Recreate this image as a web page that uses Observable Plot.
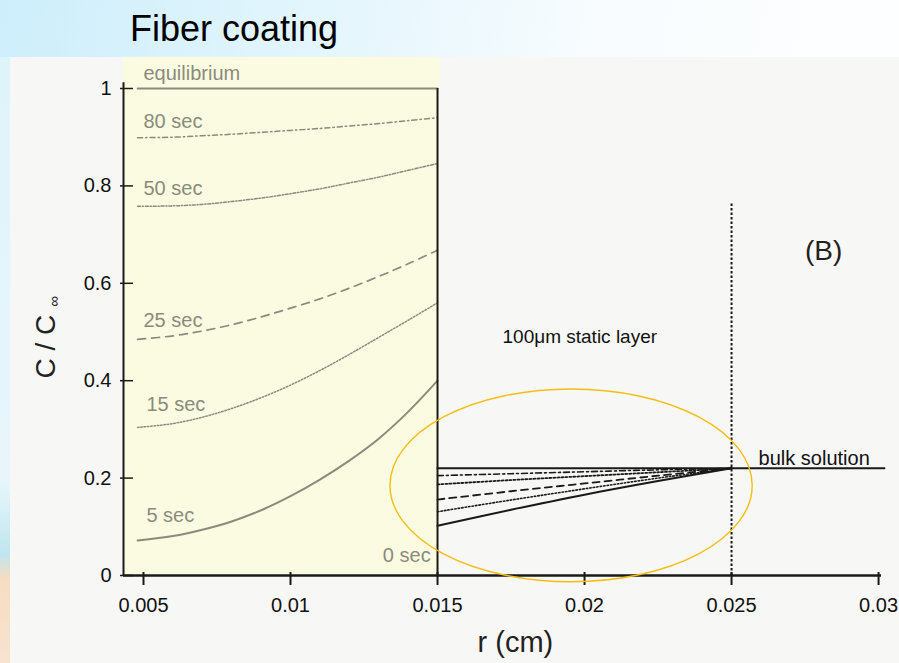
<!DOCTYPE html>
<html>
<head>
<meta charset="utf-8">
<script src="https://cdn.jsdelivr.net/npm/d3@7"></script>
<script src="https://cdn.jsdelivr.net/npm/@observablehq/plot@0.6"></script>
<style>
  html, body { margin: 0; padding: 0; }
  body { width: 899px; height: 663px; position: relative; overflow: hidden;
    background: linear-gradient(100deg, #cdeefb 0%, #e2f5fd 30%, #f8fcfe 60%, #ffffff 100%);
    font-family: "Liberation Sans", Arial, sans-serif; }
  #strip { position: absolute; left: 0; top: 57px; width: 10px; height: 606px;
    background: linear-gradient(180deg, #dff3fb 0%, #e8f6fb 70%, #bfe6ef 82%, #f6dcc2 86%, #f9e3cf 100%); }
  #title { position: absolute; left: 130px; top: 11px; font-size: 36px; line-height: 1; color: #000; white-space: nowrap; }
  #paper { position: absolute; left: 10px; top: 57px; width: 889px; height: 606px; background: #f7f7f5; }
</style>
</head>
<body>
<div id="strip"></div>
<div id="title">Fiber coating</div>
<div id="paper"></div>
<script>
// ---------- data ----------
const fiberR = [0.0048, 0.006, 0.007, 0.008, 0.009, 0.010, 0.011, 0.012, 0.013, 0.014, 0.015];
const fiberEq   = [1, 1, 1, 1, 1, 1, 1, 1, 1, 1, 1];
const fiber80s  = [0.899, 0.900, 0.903, 0.906, 0.910, 0.914, 0.918, 0.923, 0.928, 0.934, 0.940];
const fiber50s  = [0.758, 0.759, 0.762, 0.768, 0.775, 0.784, 0.794, 0.806, 0.818, 0.832, 0.846];
const fiber25s  = [0.485, 0.492, 0.502, 0.515, 0.531, 0.549, 0.568, 0.590, 0.614, 0.640, 0.668];
const fiber15s  = [0.304, 0.312, 0.325, 0.343, 0.365, 0.391, 0.421, 0.454, 0.489, 0.524, 0.560];
const fiber5s   = [0.072, 0.081, 0.094, 0.111, 0.134, 0.163, 0.197, 0.236, 0.281, 0.336, 0.400];

const layerR = [0.015, 0.0175, 0.02, 0.0225, 0.025];
const layerEq  = [0.220, 0.220, 0.220, 0.220, 0.220];
const layer80s = [0.205, 0.209, 0.213, 0.217, 0.220];
const layer50s = [0.187, 0.196, 0.204, 0.212, 0.220];
const layer25s = [0.156, 0.173, 0.189, 0.205, 0.220];
const layer15s = [0.131, 0.155, 0.178, 0.200, 0.220];
const layer5s  = [0.102, 0.135, 0.166, 0.194, 0.220];

const bulkR = [0.025, 0.0302];
const bulkC = [0.220, 0.220];

const xTicks = [0.005, 0.01, 0.015, 0.02, 0.025, 0.03];
const yTicks = [0, 0.2, 0.4, 0.6, 0.8, 1];

const timeLabels = ["equilibrium", "80 sec", "50 sec", "25 sec", "15 sec", "5 sec", "0 sec"];
const timeLabelR = [0.005, 0.005, 0.005, 0.005, 0.0051, 0.0051, 0.01314];
const timeLabelC = [1.031, 0.932, 0.795, 0.524, 0.351, 0.123, 0.041];

const fiberEdge = 0.015;
const layerEdge = 0.025;
const layerTop = 0.766;
const coatingTop = 1.064;
const ellipseCenter = [0.01956, 0.184];
const ellipseRadius = [0.00616, 0.198];

// ---------- build ----------
const xDomain = [0.00432, 0.0301];
const toPts = (xs, ys) => xs.map((x, i) => ({x, y: ys[i]}));
const grey = "#8b8b7d";
const ink = "#1a1a1a";

const fiberSeries = [
  {v: fiberEq,  dash: null,              w: 1.8},
  {v: fiber80s, dash: "5,3,1.5,3",       w: 1.5},
  {v: fiber50s, dash: "3,1.8,1.2,1.8",   w: 1.5},
  {v: fiber25s, dash: "8,6",             w: 1.7},
  {v: fiber15s, dash: "1.5,1.8",         w: 1.5},
  {v: fiber5s,  dash: null,              w: 2}
];
const layerSeries = [
  {v: layerEq,  dash: null,          w: 2},
  {v: layer80s, dash: "6,3,2,3",     w: 1.6},
  {v: layer50s, dash: "2,2",         w: 1.8},
  {v: layer25s, dash: "7,5",         w: 1.8},
  {v: layer15s, dash: "1.5,2",       w: 1.6},
  {v: layer5s,  dash: null,          w: 2}
];

const labelData = timeLabels.map((t, i) => ({t, x: timeLabelR[i], y: timeLabelC[i]}));

const marks = [
  Plot.rect([{x1: xDomain[0], x2: fiberEdge + 0.00008, y1: 0, y2: coatingTop}],
    {x1: "x1", x2: "x2", y1: "y1", y2: "y2", fill: "#fbfbe1"}),
  ...fiberSeries.map(s => Plot.line(toPts(fiberR, s.v), {x: "x", y: "y", stroke: grey, strokeWidth: s.w, strokeDasharray: s.dash, curve: "catmull-rom"})),
  ...layerSeries.map(s => Plot.line(toPts(layerR, s.v), {x: "x", y: "y", stroke: ink, strokeWidth: s.w, strokeDasharray: s.dash, curve: "catmull-rom"})),
  Plot.line(toPts(bulkR, bulkC), {x: "x", y: "y", stroke: ink, strokeWidth: 2}),
  Plot.ruleX([layerEdge], {y1: 0, y2: layerTop, stroke: ink, strokeWidth: 2, strokeDasharray: "2.5,2"}),
  Plot.ruleX([fiberEdge], {y1: 0, y2: 1, stroke: ink, strokeWidth: 2}),
  Plot.ruleX([xDomain[0]], {y1: 0, y2: 1.012, stroke: ink, strokeWidth: 2}),
  Plot.ruleY([0], {x1: xDomain[0], x2: xDomain[1], stroke: ink, strokeWidth: 2.5}),
  Plot.axisX({ticks: xTicks, tickFormat: d => String(d), tickSize: 13, dy: -3, tickPadding: 12, fontSize: 20, label: null, stroke: ink, strokeWidth: 2}),
  Plot.axisY({ticks: yTicks, tickFormat: d => String(d), tickSize: 13, dx: 10, tickPadding: 9, fontSize: 20, label: null, stroke: ink, strokeWidth: 1.5}),
  Plot.text(labelData, {x: "x", y: "y", text: "t", textAnchor: "start", fill: grey, fontSize: 20}),
  Plot.text(["100\u03bcm static layer"], {x: 0.01721, y: 0.489, textAnchor: "start", fill: "#111", fontSize: 19}),
  Plot.text(["(B)"], {x: 0.02813, y: 0.667, fill: "#222", fontSize: 28}),
  Plot.text(["bulk solution"], {x: 0.02592, y: 0.24, textAnchor: "start", fill: "#111", fontSize: 20}),
  Plot.text(["r (cm)"], {x: 0.01765, y: -0.137, fill: "#222", fontSize: 29}),
  Plot.text(["C / C"], {x: 0.00170, y: 0.470, rotate: -90, fill: "#222", fontSize: 28}),
  Plot.text(["\u221e"], {x: 0.00196, y: 0.563, rotate: -90, fill: "#222", fontSize: 15})
];

const plot = Plot.plot({
  width: 889, height: 606,
  marginLeft: 113, marginRight: 18, marginTop: 31, marginBottom: 88,
  x: {domain: xDomain},
  y: {domain: [0, 1]},
  style: {background: "transparent", fontFamily: "Liberation Sans, Arial, sans-serif", color: "#111", overflow: "visible"},
  marks
});

const sx = plot.scale("x"), sy = plot.scale("y");
const cx = sx.apply(ellipseCenter[0]), cy = sy.apply(ellipseCenter[1]);
const rx = sx.apply(ellipseCenter[0] + ellipseRadius[0]) - cx;
const ry = cy - sy.apply(ellipseCenter[1] + ellipseRadius[1]);
d3.select(plot).append("ellipse")
  .attr("cx", cx).attr("cy", cy).attr("rx", rx).attr("ry", ry)
  .attr("fill", "none").attr("stroke", "#f3bd12").attr("stroke-width", 1.4);

plot.style.position = "absolute";
plot.style.left = "10px";
plot.style.top = "57px";
document.body.appendChild(plot);
</script>
</body>
</html>
